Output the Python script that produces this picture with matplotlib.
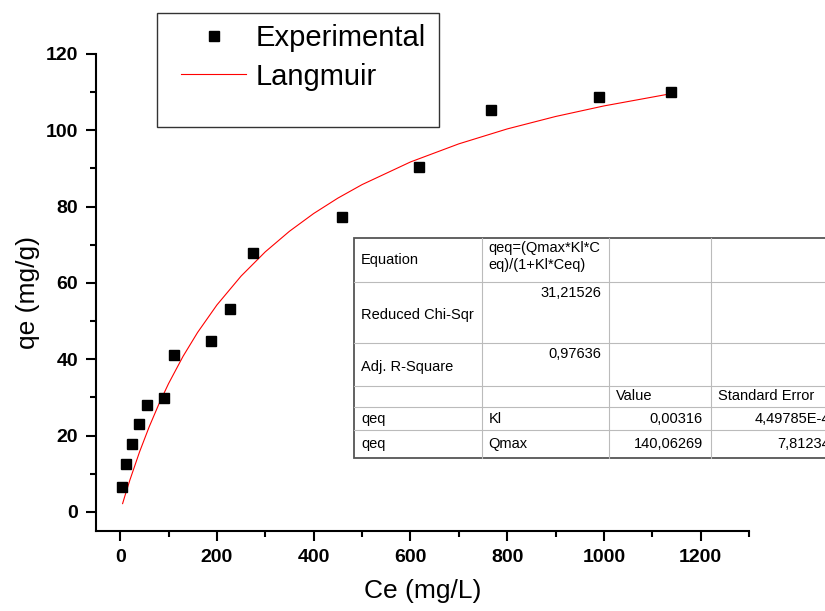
import matplotlib.pyplot as plt
from matplotlib.lines import Line2D
from matplotlib.patches import Rectangle

plt.rcParams['font.family'] = ['Liberation Sans', 'DejaVu Sans']

# experimental points
ce_exp = [4.1, 13, 24.8, 37.9, 55, 90.2, 112, 187, 227.6, 275, 459, 618.6, 766, 990, 1138.6]
qe_exp = [6.5, 12.5, 17.9, 23.1, 27.9, 29.9, 41.1, 44.9, 53.2, 67.9, 77.4, 90.4, 105.2, 108.8, 110.0]

# Langmuir fit curve, read at sample points
ce_fit = [5, 10, 20, 40, 60, 80, 100, 130, 160, 200, 250, 300, 350, 400, 450,
          500, 600, 700, 800, 900, 1000, 1140]
qe_fit = [2.18, 4.29, 8.33, 15.72, 22.32, 28.26, 33.63, 40.78, 47.03, 54.24, 61.81,
          68.16, 73.55, 78.20, 82.23, 85.77, 91.70, 96.45, 100.36, 103.62, 106.39, 109.63]

x_ticks = [0, 200, 400, 600, 800, 1000, 1200]
y_ticks = [0, 20, 40, 60, 80, 100, 120]

# fit report table (Origin style)
table_rows = [
    ["Equation", "qeq=(Qmax*Kl*C\neq)/(1+Kl*Ceq)", "", ""],
    ["Reduced Chi-Sqr", "31,21526", "", ""],
    ["Adj. R-Square", "0,97636", "", ""],
    ["", "", "Value", "Standard Error"],
    ["qeq", "Kl", "0,00316", "4,49785E-4"],
    ["qeq", "Qmax", "140,06269", "7,81234"],
]

W, H = 825, 611
fig = plt.figure(figsize=(W / 100, H / 100), dpi=100)
ax = fig.add_axes([96 / W, 1 - 531 / H, (749 - 96) / W, (531 - 54) / H])

ax.plot(ce_fit, qe_fit, color='red', lw=0.8, label='Langmuir', zorder=2)
ax.plot(ce_exp, qe_exp, 's', color='black', ms=7.3, label='Experimental', zorder=3)

ax.set_xlim(-50, 1300)
ax.set_ylim(-5, 120)
ax.set_xticks(x_ticks)
ax.set_yticks(y_ticks)
ax.set_xticks(range(100, 1301, 200), minor=True)
ax.set_yticks(range(10, 111, 20), minor=True)
for s in ['top', 'right']:
    ax.spines[s].set_visible(False)
for s in ['left', 'bottom']:
    ax.spines[s].set_linewidth(1.5)
ax.tick_params(which='major', length=7, width=1.5, labelsize=14, pad=6)
ax.tick_params(which='minor', length=4, width=1.5)
for lab in ax.get_xticklabels() + ax.get_yticklabels():
    lab.set_fontweight('bold')
ax.set_xlabel('Ce (mg/L)', fontsize=19, labelpad=9)
ax.set_ylabel('qe (mg/g)', fontsize=19, labelpad=4)

# legend box
fig.add_artist(Rectangle((157 / W, 1 - 127 / H), (439 - 157) / W, (127 - 13) / H,
                         transform=fig.transFigure, fill=True, facecolor='white',
                         edgecolor='#333333', lw=1.0, zorder=5))
h_exp = Line2D([], [], ls='none', marker='s', color='black', ms=7.3)
h_fit = Line2D([], [], color='red', lw=0.8)
leg = fig.legend([h_exp, h_fit], ['Experimental', 'Langmuir'], loc='upper left',
                 bbox_to_anchor=(161 / W, 1 - 4 / H), frameon=False, fontsize=21,
                 handlelength=2.2, handletextpad=0.35, labelspacing=0.35,
                 borderpad=0.2)
leg.set_zorder(6)

# table
def fx(px):
    return px / W

def fy(py):
    return 1 - py / H

col_x = [354, 481.7, 609.3, 710.7, 900]
row_y = [238.3, 281.7, 343.3, 385.7, 407.3, 430, 457.7]
fig.add_artist(Rectangle((fx(354), fy(457.7)), fx(900) - fx(354), fy(238.3) - fy(457.7),
                         transform=fig.transFigure, facecolor='white',
                         edgecolor='#555555', lw=1.3, zorder=4))
for yy in row_y[1:-1]:
    fig.add_artist(Line2D([fx(354), fx(900)], [fy(yy), fy(yy)], color='#bbbbbb',
                          lw=0.8, transform=fig.transFigure, zorder=4))
for xx in col_x[1:-1]:
    fig.add_artist(Line2D([fx(xx), fx(xx)], [fy(238.3), fy(457.7)], color='#bbbbbb',
                          lw=0.8, transform=fig.transFigure, zorder=4))

for r, row in enumerate(table_rows):
    top, bot = row_y[r], row_y[r + 1]
    for c, txt in enumerate(row):
        if not txt:
            continue
        numeric = txt[0].isdigit()
        if numeric:
            x = col_x[c + 1] - 8 if c < 3 else 830
            ha = 'right'
            y, va = (top + 4, 'top') if r < 3 else ((top + bot) / 2, 'center')
        else:
            x = col_x[c] + 7
            ha = 'left'
            if r == 0 and c == 1:
                y, va = top + 3, 'top'
            elif r in (1, 2) and c == 0:
                y, va = (top + bot) / 2 + 2, 'center'
            else:
                y, va = (top + bot) / 2, 'center'
        fig.text(fx(x), fy(y), txt, ha=ha, va=va, fontsize=10.5, linespacing=1.2, zorder=6)

fig.savefig('out.png', dpi=100)
